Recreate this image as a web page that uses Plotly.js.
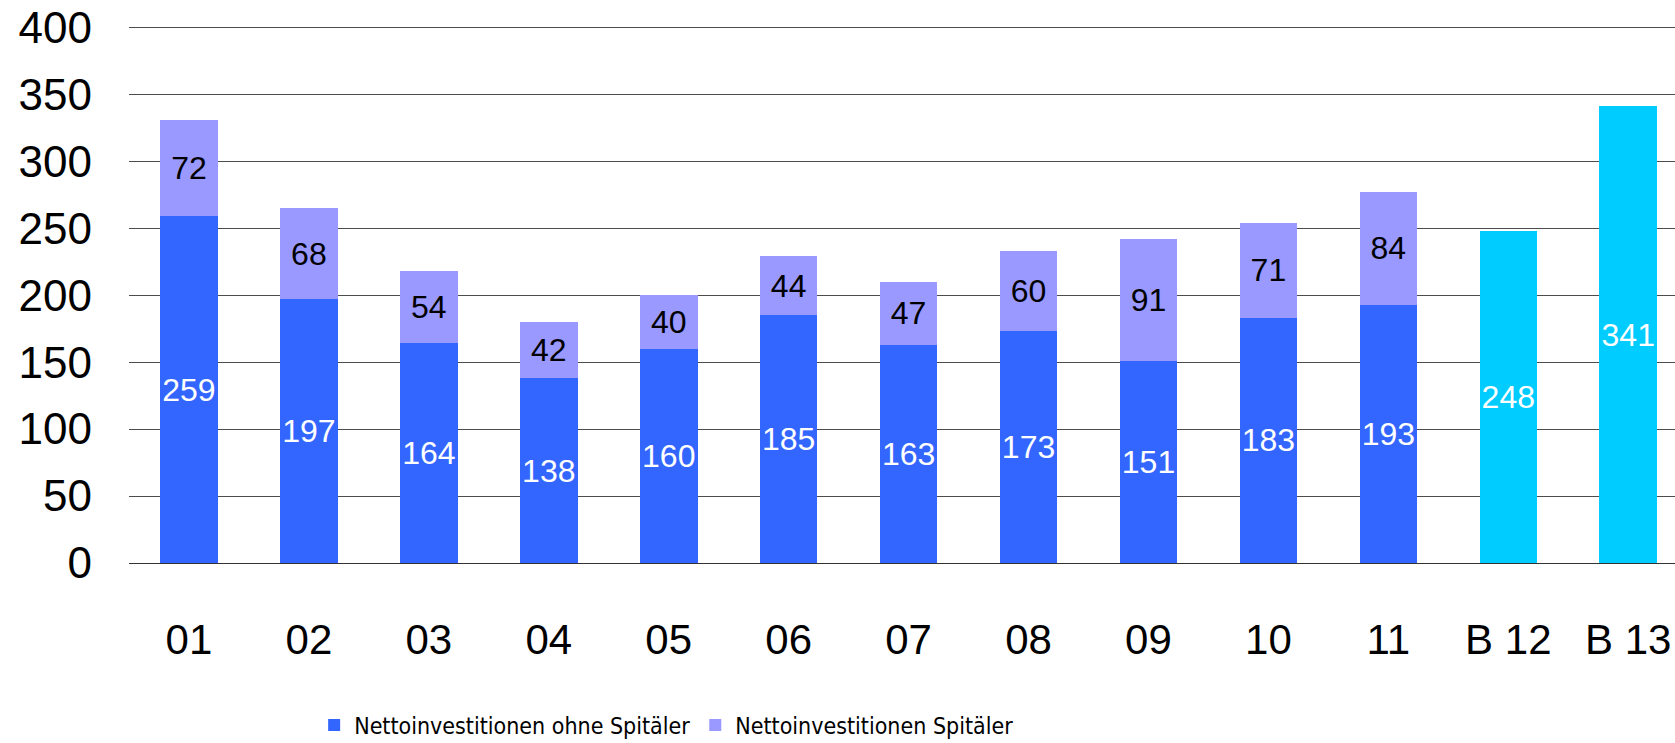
<!DOCTYPE html>
<html>
<head>
<meta charset="utf-8">
<script src="https://cdn.plot.ly/plotly-3.0.1.min.js"></script>
<style>
  html, body { margin: 0; padding: 0; background: #fff; }
  #chart { width: 1675px; height: 743px; }
</style>
</head>
<body>
<div id="chart"></div>
<script>
const categories = ['01', '02', '03', '04', '05', '06', '07', '08', '09', '10', '11', 'B 12', 'B 13'];
const ohneSpitaeler = [259, 197, 164, 138, 160, 185, 163, 173, 151, 183, 193, null, null];
const spitaeler = [72, 68, 54, 42, 40, 44, 47, 60, 91, 71, 84, null, null];
const budget = [null, null, null, null, null, null, null, null, null, null, null, 248, 341];

const baseFont = 'Liberation Sans, Arial, Helvetica, sans-serif';

function barTrace(y, name, color, textColor, showlegend) {
    return {
        type: 'bar',
        x: categories,
        y: y,
        name: name,
        showlegend: showlegend,
        marker: { color: color, line: { width: 0 } },
        width: 0.48,
        texttemplate: '%{y}',
        textposition: 'inside',
        insidetextanchor: 'middle',
        textangle: 0,
        constraintext: 'none',
        insidetextfont: { family: baseFont, size: 32, color: textColor },
        hoverinfo: 'x+y+name'
    };
}

const traces = [
    barTrace(ohneSpitaeler, 'Nettoinvestitionen ohne Spitäler', '#3366ff', '#ffffff', true),
    barTrace(spitaeler, 'Nettoinvestitionen Spitäler', '#9999ff', '#000000', true),
    barTrace(budget, 'Budget', '#00ccff', '#ffffff', false)
];

const layout = {
    width: 1675,
    height: 743,
    barmode: 'stack',
    paper_bgcolor: '#ffffff',
    plot_bgcolor: '#ffffff',
    margin: { l: 129, r: 0, t: 22, b: 180 },
    font: { family: baseFont, color: '#000' },
    xaxis: {
        type: 'category',
        range: [-0.5, 12.39],
        showgrid: false,
        showline: false,
        ticks: '',
        ticklabelstandoff: 48,
        tickfont: { family: baseFont, size: 42, color: '#000' }
    },
    yaxis: {
        range: [0, 404],
        tickvals: [0, 50, 100, 150, 200, 250, 300, 350, 400],
        showgrid: true,
        gridcolor: '#4d4d4d',
        gridwidth: 1,
        zeroline: true,
        zerolinecolor: '#333333',
        zerolinewidth: 1,
        showline: false,
        ticks: '',
        ticklabelstandoff: 36,
        tickfont: { family: baseFont, size: 44, color: '#000' }
    },
    legend: {
        orientation: 'h',
        xref: 'container',
        yref: 'container',
        x: 0.398,
        y: 0.024,
        xanchor: 'center',
        yanchor: 'middle',
        traceorder: 'normal',
        itemwidth: 30,
        font: { family: 'DejaVu Sans Condensed, Liberation Sans, sans-serif', size: 23, color: '#000' }
    }
};

Plotly.newPlot('chart', traces, layout, { displayModeBar: false, staticPlot: true });
</script>
</body>
</html>
